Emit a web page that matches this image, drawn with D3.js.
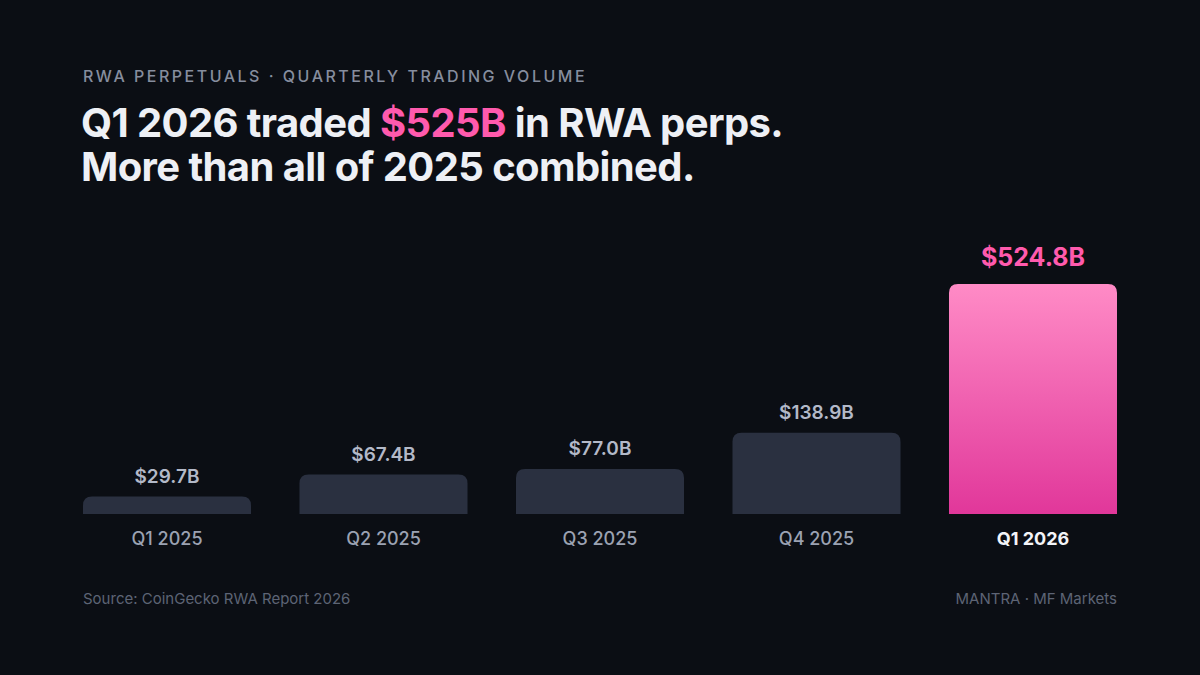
<!DOCTYPE html>
<html>
<head>
<meta charset="utf-8">
<script src="https://cdn.jsdelivr.net/npm/d3@7"></script>
<style>
  html, body { margin: 0; padding: 0; background: #0b0e14; }
  svg { display: block; font-family: Inter, "Noto Sans", sans-serif; }
</style>
</head>
<body>
<script>
const quarters = ['Q1 2025', 'Q2 2025', 'Q3 2025', 'Q4 2025', 'Q1 2026'];
const volumes = [29.7, 67.4, 77.0, 138.9, 524.8];
const valueLabels = ['$29.7B', '$67.4B', '$77.0B', '$138.9B', '$524.8B'];

const width = 1200, height = 675;
const baseY = 514, topY = 284;

const svg = d3.select('body')
  .append('svg')
  .attr('width', width)
  .attr('height', height)
  .attr('viewBox', [0, 0, width, height]);

svg.append('rect').attr('width', width).attr('height', height).attr('fill', '#0b0e14');

// pink gradient for the highlighted quarter
const grad = svg.append('defs').append('linearGradient')
  .attr('id', 'pink').attr('x1', 0).attr('y1', 0).attr('x2', 0).attr('y2', 1);
grad.append('stop').attr('offset', '0%').attr('stop-color', '#ff8bc6');
grad.append('stop').attr('offset', '100%').attr('stop-color', '#e1379a');

// header
svg.append('text')
  .attr('x', 83).attr('y', 82)
  .attr('fill', '#868d9e')
  .attr('font-size', 16).attr('font-weight', 500)
  .attr('letter-spacing', 2.5)
  .text('RWA PERPETUALS · QUARTERLY TRADING VOLUME');

// title line 1 (one text element with a pink tspan)
const t1 = svg.append('text')
  .attr('x', 81).attr('y', 137)
  .attr('fill', '#eef0f5')
  .attr('font-size', 40).attr('font-weight', 700)
  .attr('letter-spacing', -0.6);
t1.append('tspan').text('Q1 2026 traded ');
t1.append('tspan').attr('fill', '#ff5aad').text('$525B');
t1.append('tspan').text(' in RWA perps.');

svg.append('text')
  .attr('x', 81).attr('y', 181)
  .attr('fill', '#eef0f5')
  .attr('font-size', 40).attr('font-weight', 700)
  .attr('letter-spacing', -0.6)
  .text('More than all of 2025 combined.');

// scales: the last bar runs past the top and is clamped
const x = d3.scaleBand()
  .domain(quarters)
  .range([83, 1117])
  .paddingInner(0.224)
  .paddingOuter(0);

const y = d3.scaleLinear()
  .domain([0, 393])
  .range([baseY, topY])
  .clamp(true);

const data = quarters.map((q, i) => ({ q, v: volumes[i], label: valueLabels[i], hi: i === quarters.length - 1 }));

function topRounded(x0, y0, w, h, r) {
  r = Math.min(r, h, w / 2);
  return `M${x0},${y0 + h}V${y0 + r}Q${x0},${y0} ${x0 + r},${y0}H${x0 + w - r}Q${x0 + w},${y0} ${x0 + w},${y0 + r}V${y0 + h}Z`;
}

const bar = svg.append('g').selectAll('g')
  .data(data)
  .join('g');

bar.append('path')
  .attr('d', d => topRounded(x(d.q), y(d.v), x.bandwidth(), baseY - y(d.v), 9))
  .attr('fill', d => d.hi ? 'url(#pink)' : '#2a3040');

bar.append('text')
  .attr('x', d => x(d.q) + x.bandwidth() / 2)
  .attr('y', d => y(d.v) - (d.hi ? 18 : 14))
  .attr('text-anchor', 'middle')
  .attr('fill', d => d.hi ? '#ff5aad' : '#b3b9c8')
  .attr('font-size', d => d.hi ? 25 : 19)
  .attr('font-weight', d => d.hi ? 700 : 600)
  .text(d => d.label);

bar.append('text')
  .attr('x', d => x(d.q) + x.bandwidth() / 2)
  .attr('y', 545)
  .attr('text-anchor', 'middle')
  .attr('fill', d => d.hi ? '#f3f4f8' : '#9ba2b2')
  .attr('font-size', 18)
  .attr('font-weight', d => d.hi ? 700 : 500)
  .text(d => d.q);

// footer
svg.append('text')
  .attr('x', 83).attr('y', 604)
  .attr('fill', '#5d6475')
  .attr('font-size', 15)
  .text('Source: CoinGecko RWA Report 2026');

svg.append('text')
  .attr('x', 1117).attr('y', 604)
  .attr('text-anchor', 'end')
  .attr('fill', '#5d6475')
  .attr('font-size', 15)
  .text('MANTRA · MF Markets');
</script>
</body>
</html>
